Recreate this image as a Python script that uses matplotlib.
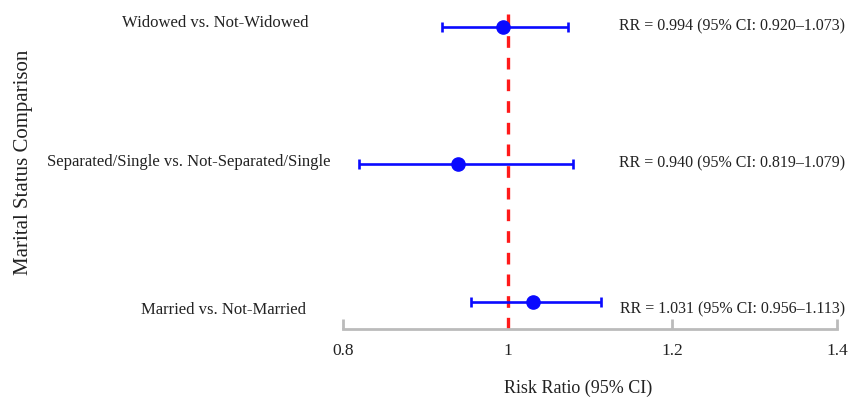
import matplotlib.pyplot as plt
import matplotlib.transforms as mtransforms

# data
comparisons = ["Widowed vs. Not-Widowed",
               "Separated/Single vs. Not-Separated/Single",
               "Married vs. Not-Married"]
rr = [0.994, 0.940, 1.031]
ci_low = [0.920, 0.819, 0.956]
ci_high = [1.073, 1.079, 1.113]
rows = [3, 2, 1]
xticks = [0.8, 1.0, 1.2, 1.4]
xtick_labels = ["0.8", "1", "1.2", "1.4"]

# label layout (axes fraction x, y offset)
label_x = [0.357, 0.383, 0.355]
label_dy = [0.03, 0.02, -0.06]

plt.rcParams['font.family'] = ['Liberation Serif', 'DejaVu Serif']

fig = plt.figure(figsize=(8.63, 4.05), dpi=100)
ax = fig.add_axes([0, 0.1877, 1, 0.8123])

err_lo = [r - l for r, l in zip(rr, ci_low)]
err_hi = [h - r for r, h in zip(rr, ci_high)]
ax.errorbar(rr, rows, xerr=[err_lo, err_hi], fmt='o', color='#0a0aff',
            ecolor='#0a0aff', elinewidth=1.9, capsize=3.5, capthick=1.9,
            markersize=9.5, zorder=3)

ax.vlines(1.0, 0.8, 3.1, colors='#ff1a1a', linestyles=(0, (3.5, 3)),
          linewidth=2.4, zorder=2)

trans = mtransforms.blended_transform_factory(ax.transAxes, ax.transData)
for name, y, lx, dy in zip(comparisons, rows, label_x, label_dy):
    ax.text(lx, y + dy, name, transform=trans, ha='right', va='center',
            fontsize=12, color='#222222')

for r, l, h, y, dy in zip(rr, ci_low, ci_high, rows, [0.005, 0.01, -0.06]):
    ax.text(0.979, y + dy, f"RR = {r:.3f} (95% CI: {l:.3f}\u2013{h:.3f})",
            transform=trans, ha='right', va='center', fontsize=11.5,
            color='#222222')

ax.set_xlim(0.3834, 1.4316)
ax.set_ylim(0.8, 3.2)
ax.set_yticks([])
for s in ['top', 'right', 'left']:
    ax.spines[s].set_visible(False)
ax.spines['bottom'].set_bounds(0.8, 1.4)
ax.spines['bottom'].set_color('#bbbbbb')
ax.spines['bottom'].set_linewidth(2)
ax.set_xticks(xticks)
ax.set_xticklabels(xtick_labels)
ax.tick_params(axis='x', direction='in', length=7, width=2, color='#bbbbbb',
               labelsize=12.5, pad=10, labelcolor='#222222')

fig.text(0.670, 0.042, "Risk Ratio (95% CI)", ha='center', va='center',
         fontsize=13, color='#222222')
fig.text(0.027, 0.60, "Marital Status Comparison", ha='center', va='center',
         rotation=90, fontsize=15, color='#222222')

fig.savefig('out.png', dpi=100)
